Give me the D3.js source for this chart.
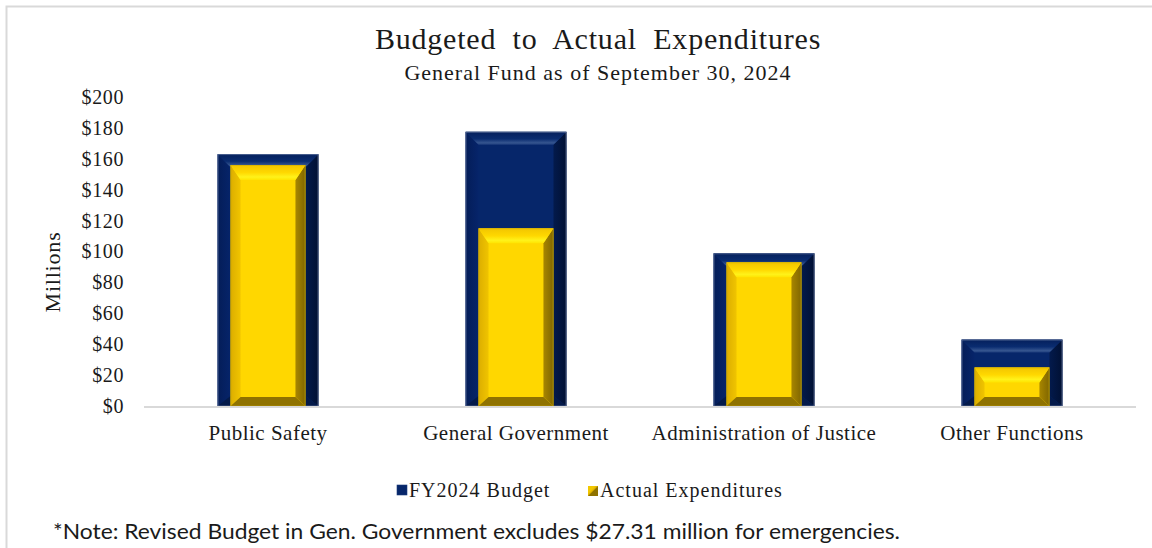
<!DOCTYPE html>
<html>
<head>
<meta charset="utf-8">
<script src="https://cdn.jsdelivr.net/npm/d3@7"></script>
<style>
  html, body { margin: 0; padding: 0; background: #fff; }
  svg { display: block; }
</style>
</head>
<body>
<svg id="chart" width="1152" height="548"></svg>
<script>
// Data (millions of dollars)
const categories = ["Public Safety", "General Government", "Administration of Justice", "Other Functions"];
const budget = [163, 177.5, 98.8, 43];
const actual = [156, 115, 93, 25];
const yTicks = [0, 20, 40, 60, 80, 100, 120, 140, 160, 180, 200];
const seriesNames = ["FY2024 Budget", "Actual Expenditures"];

const svg = d3.select("#chart");
const serif = "'Liberation Serif', 'Times New Roman', serif";

// Outer frame
svg.append("path")
  .attr("d", "M6.5,548 L6.5,6.5 L1152,6.5")
  .attr("fill", "none").attr("stroke", "#d9d9d9").attr("stroke-width", 2);

const x = d3.scaleBand().domain(categories).range([144, 1136]).paddingInner(0.593).paddingOuter(0.2965);
const y = d3.scaleLinear().domain([0, 200]).range([406, 97]);

// Gradients for bevel faces
const defs = svg.append("defs");
function vGrad(id, stops) {
  const g = defs.append("linearGradient").attr("id", id).attr("x1", 0).attr("y1", 0).attr("x2", 0).attr("y2", 1);
  stops.forEach(s => g.append("stop").attr("offset", s[0]).attr("stop-color", s[1]));
}
function hGrad(id, stops) {
  const g = defs.append("linearGradient").attr("id", id).attr("x1", 0).attr("y1", 0).attr("x2", 1).attr("y2", 0);
  stops.forEach(s => g.append("stop").attr("offset", s[0]).attr("stop-color", s[1]));
}
vGrad("navyTop", [[0, "#05205c"], [0.55, "#0a2c70"], [0.85, "#35558f"], [1, "#1d3c7c"]]);
vGrad("goldTop", [[0, "#f2c500"], [0.5, "#ffd800"], [0.8, "#fff21a"], [1, "#ffe400"]]);
hGrad("navyLeft", [[0, "#041d58"], [1, "#06246a"]]);
hGrad("navyRight", [[0, "#031a4c"], [1, "#011033"]]);
hGrad("goldLeft", [[0, "#dcae00"], [1, "#f0c400"]]);
hGrad("goldRight", [[0, "#a88600"], [1, "#806600"]]);

const styles = {
  navy: { center: "#06266a", top: "url(#navyTop)", left: "url(#navyLeft)", right: "url(#navyRight)", bottom: "#041a4a", edge: "#8a9abb" },
  gold: { center: "#ffd700", top: "url(#goldTop)", left: "url(#goldLeft)", right: "url(#goldRight)", bottom: "#8f7200", edge: "#c9a800" }
};

// Beveled bar: four trapezoid faces around a flat center
function bevelBar(g, x0, x1, y0, y1, st, bt, bs, bb) {
  const h = y1 - y0, w = x1 - x0;
  bt = Math.min(bt, h * 0.4); bb = Math.min(bb, h * 0.3); bs = Math.min(bs, w / 2);
  const poly = pts => pts.map(p => p.join(",")).join(" ");
  g.append("rect").attr("x", x0).attr("y", y0).attr("width", w).attr("height", h).attr("fill", st.center);
  g.append("polygon").attr("points", poly([[x0, y0], [x0 + bs, y0 + bt], [x0 + bs, y1 - bb], [x0, y1]])).attr("fill", st.left);
  g.append("polygon").attr("points", poly([[x1, y0], [x1 - bs, y0 + bt], [x1 - bs, y1 - bb], [x1, y1]])).attr("fill", st.right);
  g.append("polygon").attr("points", poly([[x0, y1], [x0 + bs, y1 - bb], [x1 - bs, y1 - bb], [x1, y1]])).attr("fill", st.bottom);
  g.append("polygon").attr("points", poly([[x0, y0], [x1, y0], [x1 - bs, y0 + bt], [x0 + bs, y0 + bt]])).attr("fill", st.top);
  g.append("rect").attr("x", x0 + 0.5).attr("y", y0 + 0.5).attr("width", w - 1).attr("height", h - 0.5)
    .attr("fill", "none").attr("stroke", st.edge).attr("stroke-width", 0.8).attr("stroke-opacity", 0.6);
}

// Y axis tick labels
const yAxis = d3.axisLeft(y).tickValues(yTicks).tickSize(0).tickPadding(0).tickFormat(d => "$" + d);
const yg = svg.append("g").attr("transform", "translate(124,0)").call(yAxis);
yg.select(".domain").remove();
yg.selectAll("text").attr("font-family", serif).attr("font-size", 20).attr("letter-spacing", 0.6).attr("fill", "#1a1a1a");

// Y axis title
svg.append("text")
  .attr("transform", "translate(60,272) rotate(-90)")
  .attr("text-anchor", "middle")
  .attr("font-family", serif).attr("font-size", 22).attr("letter-spacing", 0.8).attr("fill", "#1a1a1a")
  .text("Millions");

// Bars
const barsG = svg.append("g");
categories.forEach((c, i) => {
  const bx0 = x(c), bx1 = x(c) + x.bandwidth();
  bevelBar(barsG, bx0, bx1, y(budget[i]), y(0), styles.navy, 13, 13, 10);
  const inset = x.bandwidth() * 0.129;
  bevelBar(barsG, bx0 + inset, bx1 - inset, y(actual[i]), y(0), styles.gold, 15, 10, 9);
});

// Category axis
svg.append("line").attr("x1", 144).attr("x2", 1136).attr("y1", 407).attr("y2", 407)
  .attr("stroke", "#d9d9d9").attr("stroke-width", 2);
const xAxis = d3.axisBottom(x).tickSize(0).tickPadding(0);
const xg = svg.append("g").attr("transform", "translate(0,440)").call(xAxis);
xg.select(".domain").remove();
xg.selectAll("text").attr("dy", 0).attr("font-family", serif).attr("font-size", 21).attr("letter-spacing", 0.5).attr("fill", "#1a1a1a");

// Titles
svg.append("text").attr("x", 598).attr("y", 49).attr("text-anchor", "middle")
  .attr("font-family", serif).attr("font-size", 30).attr("fill", "#1a1a1a")
  .attr("letter-spacing", 0.8).attr("word-spacing", 8)
  .text("Budgeted to Actual Expenditures");
svg.append("text").attr("x", 598).attr("y", 80).attr("text-anchor", "middle")
  .attr("font-family", serif).attr("font-size", 22).attr("fill", "#1a1a1a").attr("letter-spacing", 1)
  .text("General Fund as of September 30, 2024");

// Legend
const leg = svg.append("g");
leg.append("rect").attr("x", 397).attr("y", 485).attr("width", 10).attr("height", 10).attr("fill", "#06266a")
  .attr("stroke", "#1d3c7c").attr("stroke-width", 0.6);
leg.append("text").attr("x", 409).attr("y", 497).attr("font-family", serif).attr("font-size", 20)
  .attr("letter-spacing", 1).attr("fill", "#1a1a1a").text(seriesNames[0]);
const lm = leg.append("g");
lm.append("rect").attr("x", 588).attr("y", 486).attr("width", 10).attr("height", 10).attr("fill", "#e2b400");
lm.append("polygon").attr("points", "588,496 598,486 598,496").attr("fill", "#8f7200");
lm.append("polygon").attr("points", "588,486 596,486 588,494").attr("fill", "#f2c800");
leg.append("text").attr("x", 600).attr("y", 497).attr("font-family", serif).attr("font-size", 20)
  .attr("letter-spacing", 1).attr("fill", "#1a1a1a").text(seriesNames[1]);

// Footnote
svg.append("text").attr("x", 53).attr("y", 539)
  .attr("font-family", "Lato, 'Open Sans', sans-serif").attr("font-size", 21).attr("fill", "#1a1a1a")
  .attr("textLength", 847).attr("lengthAdjust", "spacingAndGlyphs")
  .text("*Note: Revised Budget in Gen. Government excludes $27.31 million for emergencies.");
</script>
</body>
</html>
